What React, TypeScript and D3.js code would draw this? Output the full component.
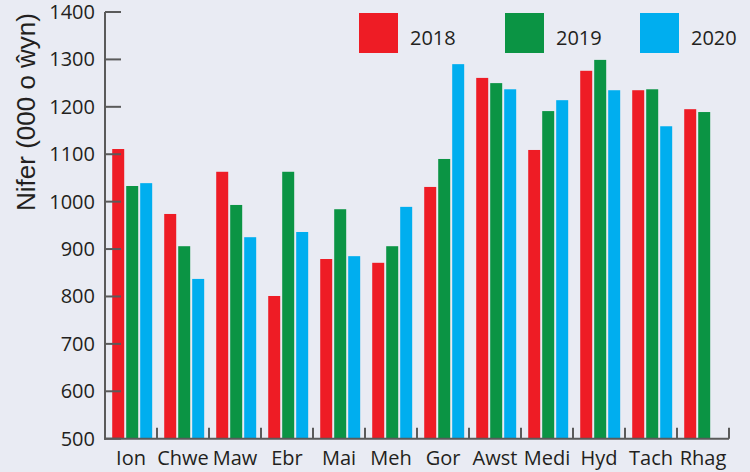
import React, { useEffect, useRef } from 'react';
import * as d3 from 'd3';

const months = ['Ion', 'Chwe', 'Maw', 'Ebr', 'Mai', 'Meh', 'Gor', 'Awst', 'Medi', 'Hyd', 'Tach', 'Rhag'];
const years = ['2018', '2019', '2020'];
const values2018 = [1111, 974, 1063, 801, 879, 871, 1031, 1261, 1109, 1276, 1235, 1195];
const values2019 = [1033, 906, 993, 1063, 984, 906, 1090, 1250, 1191, 1299, 1237, 1189];
const values2020 = [1039, 837, 925, 936, 885, 989, 1290, 1237, 1214, 1235, 1159, null];
const yTicks = [500, 600, 700, 800, 900, 1000, 1100, 1200, 1300, 1400];
const colours = ['#ee1c25', '#0b9444', '#00aeef'];

const App = () => {
  const ref = useRef<SVGSVGElement>(null);

  useEffect(() => {
    const svg = d3.select(ref.current);
    svg.selectAll('*').remove();
    const font = "'Open Sans', sans-serif";
    const left = 105, right = 729, top = 12, bottom = 438.7;

    svg.append('rect').attr('width', 750).attr('height', 472).attr('fill', '#e9ebf3');

    const x = d3.scaleBand().domain(months).range([left, right]);
    const inner = d3.scaleBand().domain(years).range([0, x.bandwidth()]).paddingInner(0.143).paddingOuter(0.43).align(0.6);
    const y = d3.scaleLinear().domain([500, 1400]).range([bottom, top]);

    const series = [values2018, values2019, values2020];
    series.forEach((vals, si) => {
      svg.append('g').selectAll('rect')
        .data(vals.map((v, i) => ({ m: months[i], v })).filter(d => d.v != null))
        .enter().append('rect')
        .attr('x', d => x(d.m)! + inner(years[si])!)
        .attr('y', d => y(d.v as number))
        .attr('width', inner.bandwidth())
        .attr('height', d => bottom - y(d.v as number))
        .attr('fill', colours[si]);
    });

    // axes
    const ax = svg.append('g').attr('stroke', '#5a5a5a').attr('stroke-width', 2);
    ax.append('line').attr('x1', left).attr('x2', left).attr('y1', top).attr('y2', bottom + 1);
    ax.append('line').attr('x1', left - 1).attr('x2', right).attr('y1', bottom).attr('y2', bottom);
    yTicks.forEach(t => {
      ax.append('line').attr('x1', left).attr('x2', left + 16).attr('y1', y(t)).attr('y2', y(t));
    });
    months.forEach((m, i) => {
      if (i === 0) return;
      ax.append('line').attr('x1', x(m)!).attr('x2', x(m)!).attr('y1', bottom).attr('y2', bottom - 11);
    });
    ax.append('line').attr('x1', right).attr('x2', right).attr('y1', bottom).attr('y2', bottom - 11);

    svg.append('g').selectAll('text').data(yTicks).enter().append('text')
      .attr('x', 95).attr('y', d => y(d)).attr('dy', '0.35em')
      .attr('text-anchor', 'end')
      .style('font-family', font).style('font-size', '20px').attr('fill', '#231f20')
      .text(d => d);

    svg.append('g').selectAll('text').data(months).enter().append('text')
      .attr('x', d => x(d)! + x.bandwidth() / 2).attr('y', 465)
      .attr('text-anchor', 'middle')
      .style('font-family', font).style('font-size', '20px').attr('fill', '#231f20')
      .text(d => d);

    svg.append('text')
      .attr('transform', 'translate(35,112) rotate(-90)')
      .attr('text-anchor', 'middle')
      .style('font-family', "'Liberation Sans', Arial, sans-serif").style('font-size', '26px').attr('fill', '#231f20')
      .text('Nifer (000 o ŵyn)');

    // legend
    const legX = [359, 505, 640];
    years.forEach((yr, i) => {
      svg.append('rect').attr('x', legX[i]).attr('y', 13).attr('width', 39).attr('height', 40).attr('fill', colours[i]);
      svg.append('text').attr('x', legX[i] + 51).attr('y', 45)
        .style('font-family', font).style('font-size', '20px').attr('fill', '#231f20')
        .text(yr);
    });
  }, []);

  return <svg ref={ref} width={750} height={472} style={{ position: 'absolute', left: 0, top: 0 }} />;
};

export default App;
